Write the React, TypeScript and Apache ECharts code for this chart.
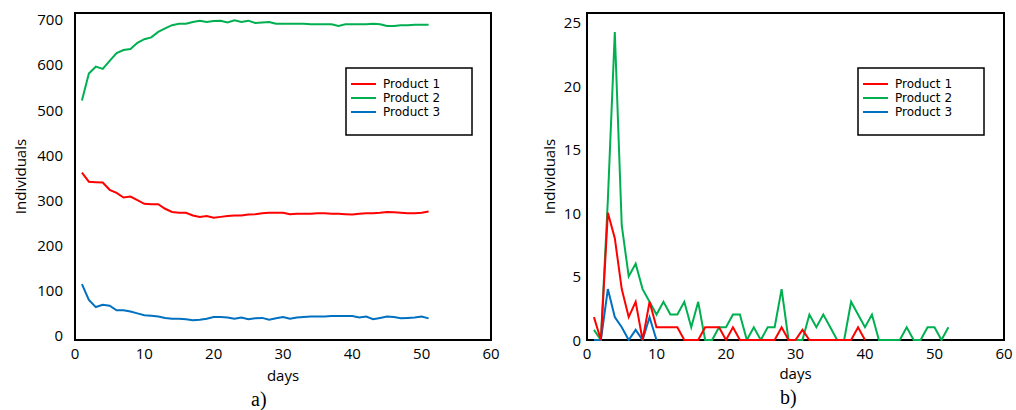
import React, { useEffect, useRef } from "react";
import * as echarts from "echarts";

// ---- Data ----
const seriesNames = ["Product 1", "Product 2", "Product 3"];
const seriesColors = ["#FF0000", "#00B050", "#0070C0"];

const xTicks = [0, 10, 20, 30, 40, 50, 60];
const leftYTicks = [0, 100, 200, 300, 400, 500, 600, 700];
const rightYTicks = [0, 5, 10, 15, 20, 25];

// a) cumulative individuals, days 1..51
const leftProduct1 = [
  360, 340, 339, 338, 322, 315, 305, 307, 299, 291, 290, 290, 280, 273, 271, 271, 265, 262, 264, 260,
  262, 264, 265, 265, 267, 268, 270, 271, 271, 271, 268, 269, 269, 269, 270, 270, 269, 269, 268, 267,
  269, 270, 270, 271, 273, 272, 271, 270, 270, 271, 274,
];
const leftProduct2 = [
  520, 580, 595, 590, 608, 625, 632, 634, 648, 656, 660, 672, 680, 687, 690, 690, 694, 697, 694, 696,
  697, 693, 698, 694, 697, 692, 693, 694, 690, 690, 690, 690, 690, 689, 689, 689, 689, 685, 689, 689,
  689, 689, 690, 689, 685, 685, 687, 687, 688, 688, 688,
];
const leftProduct3 = [
  113, 78, 62, 67, 65, 55, 55, 52, 48, 44, 43, 41, 38, 36, 36, 35, 33, 34, 36, 40,
  40, 39, 36, 39, 35, 37, 38, 34, 37, 40, 36, 39, 40, 41, 41, 41, 42, 42, 42, 42,
  39, 41, 35, 38, 41, 40, 37, 38, 39, 41, 37,
];

// b) daily individuals
const rightProduct1 = [
  1.8, 0, 10, 8, 4, 1.8, 3, 0, 3, 1, 1, 1, 1, 0, 0, 0, 1, 1, 1, 0,
  1, 0, 0, 0, 0, 0, 0, 1, 0, 0, 0.8, 0, 0, 0, 0, 0, 0, 0, 1, 0,
];
const rightProduct2 = [
  0.8, 0, 11, 24.2, 9, 5, 6, 4, 3, 2, 3, 2, 2, 3, 1, 3, 0, 0, 1, 1,
  2, 2, 0, 1, 0, 1, 1, 4, 0, 0, 0, 2, 1, 2, 1, 0, 0, 3, 2, 1,
  2, 0, 0, 0, 0, 1, 0, 0, 1, 1, 0, 1,
];
const rightProduct3 = [0, 0, 4, 1.8, 1, 0, 0.8, 0, 1.8, 0];

const toPairs = (vals: number[]) => vals.map((v, i) => [i + 1, v]);

const FONT = "Open Sans";
const LEGEND_FONT = "DejaVu Sans";

export default function App() {
  const ref = useRef<HTMLDivElement>(null);

  useEffect(() => {
    if (!ref.current) return;
    const chart = echarts.init(ref.current, undefined, { renderer: "svg" });

    const xAxisBase = (gridIndex: number, nameGap: number) => ({
      type: "value" as const,
      gridIndex,
      min: 0,
      max: 60,
      interval: 10,
      name: "days",
      nameLocation: "middle" as const,
      nameGap,
      nameTextStyle: { fontFamily: FONT, fontSize: 15, color: "#000" },
      axisLine: { show: false },
      axisTick: { show: false },
      splitLine: { show: false },
      axisLabel: {
        fontFamily: FONT,
        fontSize: 15,
        color: "#000",
        margin: 5,
        customValues: xTicks,
      },
    });

    const legendBase = (left: number) => ({
      left,
      top: 68,
      orient: "vertical" as const,
      icon: "rect",
      itemWidth: 25,
      itemHeight: 2,
      itemGap: 0,
      padding: [9, 32, 16, 5],
      borderColor: "#000",
      borderWidth: 1.5,
      backgroundColor: "#fff",
      data: seriesNames,
      textStyle: {
        fontFamily: LEGEND_FONT,
        fontSize: 12,
        color: "#000",
        lineHeight: 14,
        padding: [0, 0, 0, 2],
      },
    });

    const line = (
      name: string,
      color: string,
      vals: number[],
      axis: number
    ) => ({
      type: "line" as const,
      name,
      xAxisIndex: axis,
      yAxisIndex: axis,
      data: toPairs(vals),
      showSymbol: false,
      symbol: "none",
      lineStyle: { width: 2, color, join: "miter" as const },
      itemStyle: { color },
      emphasis: { disabled: true },
    });

    chart.setOption({
      animation: false,
      backgroundColor: "#fff",
      grid: [
        { left: 75, top: 13, width: 416, height: 327, show: true, borderColor: "#000", borderWidth: 2 },
        { left: 587, top: 13, width: 417, height: 327, show: true, borderColor: "#000", borderWidth: 2 },
      ],
      xAxis: [xAxisBase(0, 27), xAxisBase(1, 25)],
      yAxis: [
        {
          type: "value",
          gridIndex: 0,
          min: -11,
          max: 714,
          name: "Individuals",
          nameLocation: "middle",
          nameGap: 48,
          nameTextStyle: { fontFamily: FONT, fontSize: 15, color: "#000" },
          axisLine: { show: false },
          axisTick: { show: false },
          splitLine: { show: false },
          axisLabel: {
            fontFamily: FONT,
            fontSize: 15,
            color: "#000",
            margin: 12,
            customValues: leftYTicks,
          },
        },
        {
          type: "value",
          gridIndex: 1,
          min: 0,
          max: 25.7,
          name: "Individuals",
          nameLocation: "middle",
          nameGap: 31,
          nameTextStyle: { fontFamily: FONT, fontSize: 15, color: "#000" },
          axisLine: { show: false },
          axisTick: { show: false },
          splitLine: { show: false },
          axisLabel: {
            fontFamily: FONT,
            fontSize: 15,
            color: "#000",
            margin: 6,
            customValues: rightYTicks,
          },
        },
      ],
      legend: [legendBase(346), legendBase(858)],
      series: [
        line(seriesNames[1], seriesColors[1], leftProduct2, 0),
        line(seriesNames[2], seriesColors[2], leftProduct3, 0),
        line(seriesNames[0], seriesColors[0], leftProduct1, 0),
        line(seriesNames[1], seriesColors[1], rightProduct2, 1),
        line(seriesNames[2], seriesColors[2], rightProduct3, 1),
        line(seriesNames[0], seriesColors[0], rightProduct1, 1),
      ],
      graphic: [
        {
          type: "text",
          left: 251,
          top: 389,
          style: { text: "a)", fontFamily: "Liberation Serif", fontSize: 20, fill: "#000" },
        },
        {
          type: "text",
          left: 780,
          top: 387,
          style: { text: "b)", fontFamily: "Liberation Serif", fontSize: 20, fill: "#000" },
        },
      ],
    });

    return () => chart.dispose();
  }, []);

  return (
    <div
      ref={ref}
      style={{ position: "fixed", left: 0, top: 0, width: 1016, height: 410, background: "#fff" }}
    />
  );
}
